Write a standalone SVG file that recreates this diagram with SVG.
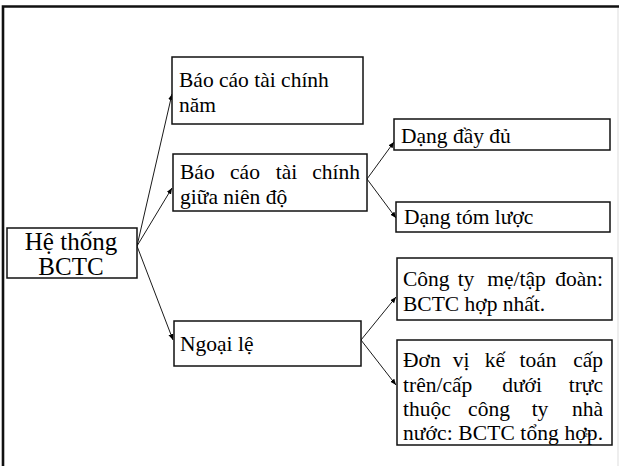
<svg xmlns="http://www.w3.org/2000/svg" width="619" height="466" viewBox="0 0 619 466">
  <style>
    .box { fill: #fff; stroke: #111; stroke-width: 1.5; }
    text { font-family: "Liberation Serif", "Times New Roman", serif; font-size: 21.5px; fill: #000; }
    .big { font-size: 25px; }
    .mid { text-anchor: middle; }
    .end { text-anchor: end; }
    .edge { fill: none; stroke: #000; stroke-width: 0.9; marker-end: url(#tip); }
  </style>
  <defs>
    <marker id="tip" markerUnits="userSpaceOnUse" markerWidth="7" markerHeight="6" refX="6" refY="2.5" orient="auto">
      <path d="M0,0 L6,2.5 L0,5 z" fill="#000"/>
    </marker>
  </defs>

  <rect width="619" height="466" fill="#fff"/>

  <!-- page frame -->
  <path d="M3,466 V6.5 H619" fill="none" stroke="#111" stroke-width="2.6"/>
  <path d="M618,8 V466" fill="none" stroke="#ddd" stroke-width="1"/>

  <g id="connectors">
    <path class="edge" d="M137,246 L172,94"/>
    <path class="edge" d="M137,246 L172,188"/>
    <path class="edge" d="M137,246 L173,340"/>
    <path class="edge" d="M367,179 L394,142"/>
    <path class="edge" d="M367,179 L396,218"/>
    <path class="edge" d="M361,340 L396,297"/>
    <path class="edge" d="M361,340 L396,385"/>
  </g>

  <g id="root">
    <rect class="box" x="7" y="228" width="130" height="50"/>
    <text class="big mid"><tspan x="71" y="250">Hệ thống</tspan><tspan x="71" y="275">BCTC</tspan></text>
  </g>

  <g id="annual">
    <rect class="box" x="172" y="57" width="191" height="67"/>
    <text><tspan x="179" y="87">Báo cáo tài chính</tspan><tspan x="179" y="112">năm</tspan></text>
  </g>

  <!-- justified lines: first word at left, last word at right, inner words centred -->
  <g id="interim">
    <rect class="box" x="173" y="154" width="194" height="57"/>
    <text y="179"><tspan x="180">Báo</tspan><tspan class="mid" x="245">cáo</tspan><tspan class="mid" x="286.5">tài</tspan><tspan class="end" x="360">chính</tspan></text>
    <text x="180" y="204">giữa niên độ</text>
  </g>

  <g id="exceptions">
    <rect class="box" x="174" y="321" width="187" height="45"/>
    <text x="180" y="351">Ngoại lệ</text>
  </g>

  <g id="full">
    <rect class="box" x="394" y="119" width="216" height="31"/>
    <text x="401" y="143">Dạng đầy đủ</text>
  </g>

  <g id="condensed">
    <rect class="box" x="396" y="202" width="214" height="30"/>
    <text x="404" y="224">Dạng tóm lược</text>
  </g>

  <g id="parent-company">
    <rect class="box" x="397" y="258" width="215" height="62"/>
    <text y="286"><tspan x="403">Công</tspan><tspan class="mid" x="466">ty</tspan><tspan class="mid" x="516.5">mẹ/tập</tspan><tspan class="end" x="603">đoàn:</tspan></text>
    <text x="403" y="311">BCTC hợp nhất.</text>
  </g>

  <g id="state-units">
    <rect class="box" x="397" y="340" width="215" height="105"/>
    <text y="367"><tspan x="403">Đơn</tspan><tspan class="mid" x="461">vị</tspan><tspan class="mid" x="495">kế</tspan><tspan class="mid" x="538">toán</tspan><tspan class="end" x="603">cấp</tspan></text>
    <text y="392"><tspan x="403">trên/cấp</tspan><tspan class="mid" x="522">dưới</tspan><tspan class="end" x="603">trực</tspan></text>
    <text y="416"><tspan x="403">thuộc</tspan><tspan class="mid" x="489">công</tspan><tspan class="mid" x="540">ty</tspan><tspan class="end" x="603">nhà</tspan></text>
    <text x="403" y="440" textLength="200" lengthAdjust="spacing">nước: BCTC tổng hợp.</text>
    <text x="584" y="437" style="font-size:7px">29</text>
  </g>
</svg>
